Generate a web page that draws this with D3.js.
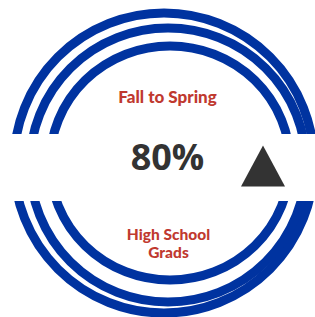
<!DOCTYPE html>
<html>
<head>
<meta charset="utf-8">
<script src="https://cdn.jsdelivr.net/npm/d3@7"></script>
<style>
  html, body { margin: 0; padding: 0; background: #fff; }
  svg { display: block; }
</style>
</head>
<body>
<div id="chart"></div>
<script>
// ---- data ----
const metricLabel = ["Fall to Spring"];
const metricValue = [80];            // percent
const trendDirection = ["up"];
const groupLabel = ["High School", "Grads"];

// ---- layout ----
const W = 315, H = 317;
const BLUE = "#0033a0", RED = "#c0392f", DARK = "#333333";
const LABEL_FONT = "Lato, 'Open Sans', sans-serif";
const VALUE_FONT = "'Open Sans', Lato, sans-serif";

const svg = d3.select("#chart").append("svg")
  .attr("width", W).attr("height", H);

// decorative rings (slightly offset, like the reference)
const rings = [
  { cx: 164, cy: 163, rx: 150, ry: 150 },
  { cx: 168, cy: 165, rx: 138, ry: 137 },
  { cx: 170, cy: 163, rx: 120, ry: 117 }
];
svg.selectAll("ellipse.ring").data(rings).join("ellipse")
  .attr("class", "ring")
  .attr("cx", d => d.cx).attr("cy", d => d.cy)
  .attr("rx", d => d.rx).attr("ry", d => d.ry)
  .attr("fill", "none").attr("stroke", BLUE).attr("stroke-width", 9);

// white band across the middle
svg.append("rect").attr("x", 0).attr("y", 134).attr("width", W).attr("height", 67)
  .attr("fill", "#fff");

const cx = 167.5;
const fmt = d3.format(".0%");

svg.selectAll("text.title").data(metricLabel).join("text")
  .attr("class", "title")
  .attr("x", cx).attr("y", 103)
  .attr("text-anchor", "middle")
  .attr("font-family", LABEL_FONT)
  .attr("font-weight", 900).attr("font-size", 17)
  .attr("fill", RED)
  .text(d => d);

svg.selectAll("text.value").data(metricValue).join("text")
  .attr("class", "value")
  .attr("x", cx).attr("y", 170)
  .attr("text-anchor", "middle")
  .attr("font-family", VALUE_FONT)
  .attr("font-weight", 700).attr("font-size", 36)
  .attr("fill", DARK)
  .text(d => fmt(d / 100));

svg.selectAll("text.group").data(groupLabel).join("text")
  .attr("class", "group")
  .attr("x", cx + 1).attr("y", (d, i) => 239.5 + i * 18.6)
  .attr("text-anchor", "middle")
  .attr("font-family", LABEL_FONT)
  .attr("font-weight", 900).attr("font-size", 15.5)
  .attr("fill", RED)
  .text(d => d);

// trend triangle
const triW = 44, triH = 41;
svg.selectAll("path.trend").data(trendDirection).join("path")
  .attr("class", "trend")
  .attr("transform", d => `translate(263,166) rotate(${d === "up" ? 0 : 180})`)
  .attr("d", () => {
    const p = d3.path();
    p.moveTo(0, -triH / 2);
    p.lineTo(triW / 2, triH / 2);
    p.lineTo(-triW / 2, triH / 2);
    p.closePath();
    return p.toString();
  })
  .attr("fill", DARK);
</script>
</body>
</html>
